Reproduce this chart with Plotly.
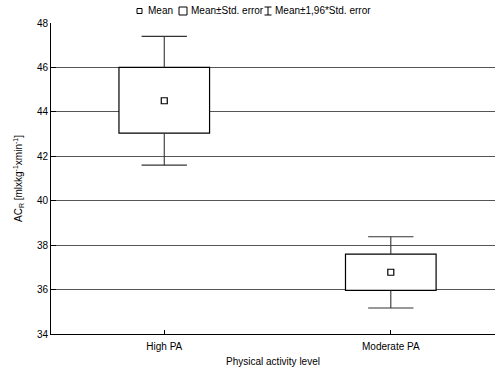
import plotly.graph_objects as go

categories = ["High PA", "Moderate PA"]
means = [44.5, 36.78]
se_low = [43.04, 35.96]
se_high = [46.0, 37.6]
ci_low = [41.6, 35.17]
ci_high = [47.4, 38.38]
y_ticks = [34, 36, 38, 40, 42, 44, 46, 48]

W, H = 495, 369
L, R, T, B = 51, 0, 23, 35
pw, ph = W - L - R, H - T - B

def px(x):
    return (x - L) / pw

def py(y):
    return (H - B - y) / ph

pos = list(range(len(categories)))
box_w = 0.4
cap_half = 0.1

fig = go.Figure()

# boxes (mean ± SE)
fig.add_trace(go.Bar(
    x=pos, y=[h - l for h, l in zip(se_high, se_low)], base=se_low,
    width=box_w, marker=dict(color="white", line=dict(color="black", width=1.2)),
    showlegend=False, hoverinfo="skip"))

# whiskers (SE edge to 1.96 SE)
wx, wy = [], []
for i in pos:
    wx += [i, i, None, i, i, None]
    wy += [ci_high[i], se_high[i], None, se_low[i], ci_low[i], None]
fig.add_trace(go.Scatter(x=wx, y=wy, mode="lines",
                         line=dict(color="#333", width=1.1),
                         showlegend=False, hoverinfo="skip"))

# caps
fig.add_trace(go.Scatter(
    x=pos + pos, y=ci_high + ci_low, mode="markers",
    marker=dict(size=1, color="rgba(0,0,0,0)"),
    error_x=dict(type="constant", value=cap_half, width=0, thickness=1.1, color="#333"),
    showlegend=False, hoverinfo="skip"))

# means
fig.add_trace(go.Scatter(
    x=pos, y=means, mode="markers",
    marker=dict(symbol="square-open", size=6, color="black", line=dict(width=1.2)),
    showlegend=False))

# legend (drawn manually)
shapes = [
    dict(type="rect", xref="paper", yref="paper", x0=px(137), x1=px(142), y0=py(8.5), y1=py(13.5),
         line=dict(color="black", width=1)),
    dict(type="rect", xref="paper", yref="paper", x0=px(179), x1=px(187), y0=py(7), y1=py(15),
         line=dict(color="black", width=1)),
    dict(type="line", xref="paper", yref="paper", x0=px(268), x1=px(268), y0=py(7), y1=py(15),
         line=dict(color="black", width=1)),
    dict(type="line", xref="paper", yref="paper", x0=px(264.5), x1=px(271.5), y0=py(7), y1=py(7),
         line=dict(color="black", width=1)),
    dict(type="line", xref="paper", yref="paper", x0=px(264.5), x1=px(271.5), y0=py(15), y1=py(15),
         line=dict(color="black", width=1)),
]
legend_items = [("Mean", 146), ("Mean±Std. error", 189), ("Mean±1,96*Std. error", 273)]
annotations = [
    dict(text=t, x=px(xl), y=py(11), xref="paper", yref="paper", xanchor="left", yanchor="middle",
         showarrow=False, font=dict(size=10, color="black"))
    for t, xl in legend_items
]

fig.update_layout(
    width=W, height=H,
    margin=dict(l=L, r=R, t=T, b=B),
    paper_bgcolor="white", plot_bgcolor="white",
    font=dict(family="Liberation Sans, Arial, sans-serif", size=10, color="black"),
    shapes=shapes, annotations=annotations,
    showlegend=False,
)
fig.update_xaxes(
    range=[-0.5, 1.46], tickvals=pos, ticktext=categories,
    ticks="inside", ticklen=4, tickcolor="black",
    showline=True, linecolor="black", linewidth=1, showgrid=False, zeroline=False,
    ticklabelstandoff=3,
    title=dict(text="Physical activity level", standoff=6, font=dict(size=10)),
)
fig.update_yaxes(
    range=[34, 48], tickvals=y_ticks,
    ticks="inside", ticklen=5, tickcolor="black",
    showline=True, linecolor="black", linewidth=1,
    showgrid=True, gridcolor="#555", gridwidth=1, zeroline=False,
    title=dict(text="AC<sub>R</sub> [mlxkg<sup>-1</sup>xmin<sup>-1</sup>]", standoff=12, font=dict(size=10)),
)

fig.write_html("out.html", config={"displayModeBar": False},
               post_script="document.body.style.margin='0px';document.body.style.overflow='hidden';")
